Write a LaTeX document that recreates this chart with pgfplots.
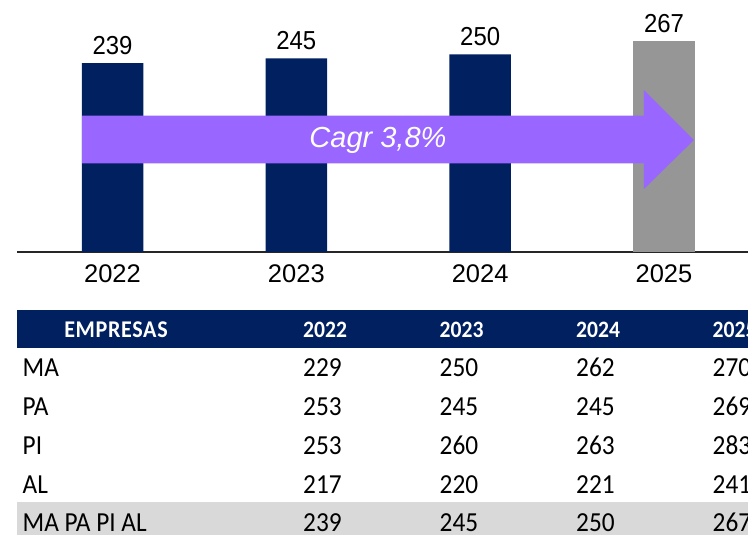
\documentclass[border=0pt]{standalone}
\usepackage{pgfplots}
\pgfplotsset{compat=1.18}
\usepackage{fontspec}
\setmainfont{Liberation Sans}
\newfontfamily\calibrifont{Carlito}
\definecolor{navy}{HTML}{002060}
\definecolor{barGrey}{HTML}{969696}
\definecolor{arrowPurple}{HTML}{9966FF}
\definecolor{bandGrey}{HTML}{D9D9D9}
\begin{document}
\begin{tikzpicture}[x=1pt,y=1pt]
\useasboundingbox (0,0) rectangle (748,535);
\clip (0,0) rectangle (748,535);
\begin{axis}[
  at={(17pt,283pt)}, anchor=south west,
  scale only axis, width=731pt, height=252pt,
  xmin=-0.5195, xmax=3.457, ymin=0, ymax=318.8,
  clip=false,
  axis x line*=bottom, axis y line=none,
  x axis line style={-, line width=1.6pt, color=black!85},
  xtick={0,1,2,3}, xticklabels={2022,2023,2024,2025},
  ytick=\empty,
  major tick length=0pt,
  xticklabel style={font=\fontsize{25.5}{25.5}\selectfont, yshift=-9.5pt},
  /pgf/number format/assume math mode=true,
  ybar, bar width=61.5pt, bar shift=0pt,
  nodes near coords,
  every node near coord/.append style={font=\fontsize{26}{26}\selectfont, black, yshift=5pt, xscale=0.92},
]
\addplot[fill=navy, draw=none] coordinates {(0,239) (1,245) (2,250)};
\addplot[fill=barGrey, draw=none] coordinates {(3,267)};
\fill[arrowPurple] (axis cs:-0.1659,172.4) -- (axis cs:2.891,172.4) -- (axis cs:2.891,204.9)
  -- (axis cs:3.163,141.7) -- (axis cs:2.891,79.7) -- (axis cs:2.891,112.2)
  -- (axis cs:-0.1659,112.2) -- cycle;
\node[text=white, font=\fontsize{29}{29}\selectfont\itshape] at (axis cs:1.444,141.7) {Cagr 3,8\%};
\end{axis}
% table
\fill[navy] (17,187) rectangle (748,225);
\fill[bandGrey] (17,0) rectangle (748,32.7);
\begin{scope}[every node/.style={inner sep=0pt, anchor=base west}]
\node[font=\calibrifont\bfseries\fontsize{24}{24}\selectfont, text=white, anchor=base, xscale=0.92] at (116,197.7) {\addfontfeatures{LetterSpace=3}EMPRESAS};
\foreach \x/\t in {303/2022,439.5/2023,576/2024,712.5/2025}
  \node[font=\calibrifont\bfseries\fontsize{23.5}{23.5}\selectfont, text=white, xscale=0.92] at (\x,197.7) {\t};
\foreach \y/\n/\a/\b/\c/\d in {158/MA/229/250/262/270, 119.25/PA/253/245/245/269, 80.5/PI/253/260/263/283, 41.75/AL/217/220/221/241, 3/MA PA PI AL/239/245/250/267}{
  \node[font=\calibrifont\fontsize{27.5}{28}\selectfont, xscale=0.92] at (22.5,\y) {\n};
  \node[font=\calibrifont\fontsize{27.5}{28}\selectfont, xscale=0.92] at (303,\y) {\a};
  \node[font=\calibrifont\fontsize{27.5}{28}\selectfont, xscale=0.92] at (439.5,\y) {\b};
  \node[font=\calibrifont\fontsize{27.5}{28}\selectfont, xscale=0.92] at (576,\y) {\c};
  \node[font=\calibrifont\fontsize{27.5}{28}\selectfont, xscale=0.92] at (712.5,\y) {\d};
}
\end{scope}
\end{tikzpicture}
\end{document}
